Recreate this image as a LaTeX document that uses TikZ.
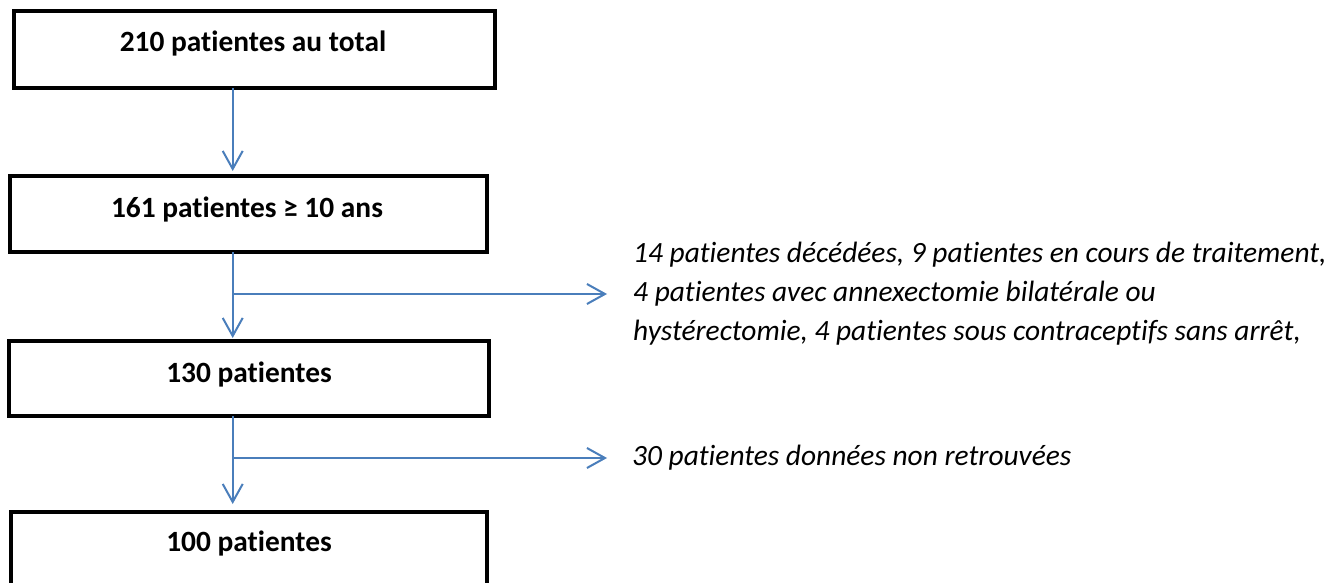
\documentclass[tikz,border=0pt]{standalone}
\usepackage{fontspec}
\setmainfont{Carlito}[Ligatures=NoCommon]
\usetikzlibrary{arrows.meta}
\definecolor{arrowblue}{RGB}{74,126,187}
\begin{document}
\begin{tikzpicture}[x=1pt,y=-1pt,
  box/.style={draw=black, line width=4.5pt, rectangle, inner sep=0pt, outer sep=0pt, anchor=north west},
  lbl/.style={font=\fontsize{29.4}{35}\selectfont\bfseries, anchor=base, inner sep=0pt},
  note/.style={font=\fontsize{29.4}{39}\selectfont\itshape, anchor=base west, inner sep=0pt},
  flow/.style={draw=arrowblue, line width=2pt, -{Straight Barb[length=18pt,width=20pt]}}
]
\clip (0,0) rectangle (1344,583);
\fill[white] (0,0) rectangle (1344,583);

% boxes
\node[box, minimum width=481pt, minimum height=77pt] (b1) at (14,11) {};
\node[box, minimum width=477pt, minimum height=76pt] (b2) at (10,176) {};
\node[box, minimum width=480pt, minimum height=75pt] (b3) at (9,341) {};
\node[box, minimum width=476pt, minimum height=100pt] (b4) at (11,512) {};

% box labels
\node[lbl] (t1) at (253,52) {210 patientes au total};
\node[lbl] (t2) at (247,217) {161 patientes ≥ 10 ans};
\node[lbl] (t3) at (249,382) {130 patientes};
\node[lbl] (t4) at (249,551) {100 patientes};

% notes
\node[note] (n1a) at (633,262) {14 patientes décédées, 9 patientes en cours de traitement,};
\node[note] (n1b) at (633,301) {4 patientes avec annexectomie bilatérale ou};
\node[note] (n1c) at (633,340) {hystérectomie, 4 patientes sous contraceptifs sans arrêt,};
\node[note] (n2) at (632,465) {30 patientes données non retrouvées};

% connector helpers
\coordinate (ax) at (232.7,0);
\coordinate (br1) at (232.7,294);
\coordinate (e1) at (607,294);
\coordinate (br2) at (232.7,458);
\coordinate (e2) at (607,458);

% connectors
\draw[flow, shorten >=5pt] (b1.south -| ax) -- (b2.north -| ax);
\draw[flow, shorten >=3pt] (b2.south -| ax) -- (b3.north -| ax);
\draw[flow, shorten >=8pt] (b3.south -| ax) -- (b4.north -| ax);
\draw[flow] (br1) -- (e1);
\draw[flow] (br2) -- (e2);
\end{tikzpicture}
\end{document}
